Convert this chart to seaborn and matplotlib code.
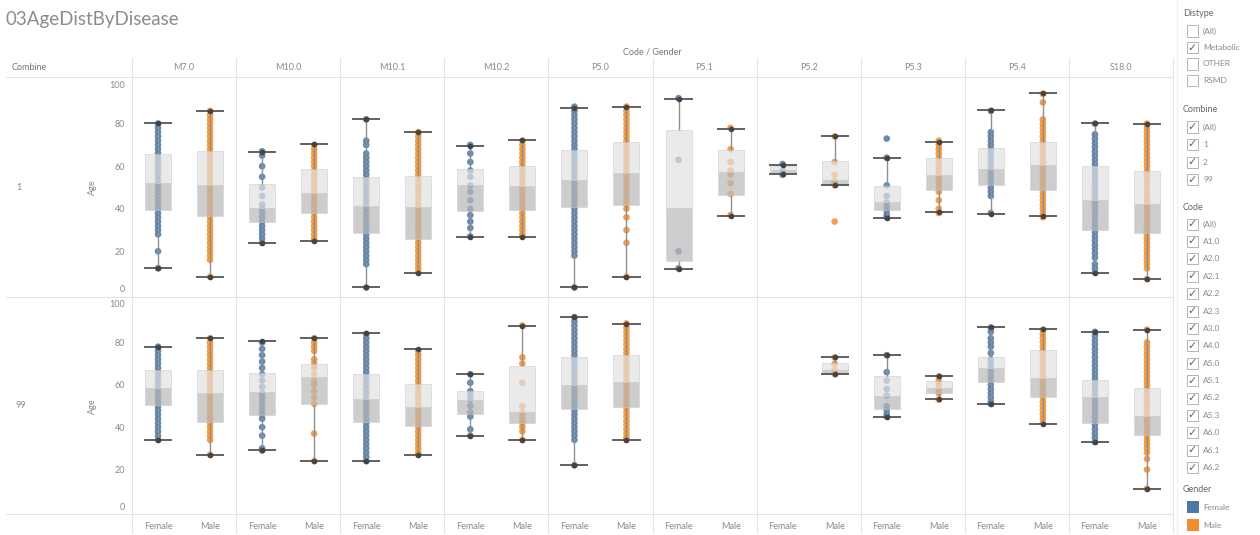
import pandas as pd
import seaborn as sns
import matplotlib.pyplot as plt
from matplotlib.patches import Rectangle
from matplotlib.lines import Line2D

# Facets
codes = ["M7.0", "M10.0", "M10.1", "M10.2", "P5.0", "P5.1", "P5.2", "P5.3", "P5.4", "S18.0"]
genders = ["Female", "Male"]
combines = ["1", "99"]

# Box stats per (code, gender): (whisker low, q1, median, q3, whisker high)
box_1 = [
    (12, 39.5, 52, 65.8, 80.4), (8, 36.7, 51.3, 67, 86),
    (23.7, 33.6, 40.5, 51.7, 66.6), (24.7, 37.8, 47.4, 58.5, 70.4),
    (3, 28.7, 41.3, 54.8, 82.4), (9.9, 26, 40.7, 55.3, 76),
    (26.9, 38.9, 51.3, 58.6, 69.7), (26.9, 39.3, 50.8, 60, 72.4),
    (3, 40.7, 53.6, 67.4, 87.6), (8, 42, 56.8, 71.5, 88),
    (11.9, 15.5, 40.5, 76.9, 91.6), (36.7, 46.7, 57.4, 67.7, 77.6),
    (56.3, 57, 58, 60, 60.5), (51.3, 51.3, 53.6, 62.4, 74.3),
    (35.8, 39.6, 43, 50.7, 63.7), (38.4, 48.7, 55.7, 63.7, 71.6),
    (37.6, 51.4, 58.8, 68.6, 86.2), (36.4, 48.7, 60.6, 71.6, 94.3),
    (10, 30, 44, 59.9, 80.5), (7, 28.7, 42.2, 57.6, 79.8),
]
box_99 = [
    (33.9, 50.6, 58.7, 66.9, 78), (26.7, 42.5, 56, 66.9, 81.9),
    (29.2, 45.9, 56.5, 65.8, 80.6), (24, 51, 63.5, 70, 82),
    (24, 42.6, 53.3, 65.3, 84.7), (27, 40.7, 49.5, 60.2, 76.9),
    (35.8, 46, 52.8, 57.1, 64.9), (33.9, 42, 47.1, 68.7, 88),
    (22.3, 48.6, 59.9, 73.3, 91.9), (33.9, 49.7, 61.5, 74.1, 88.8),
    None, None,
    None, (64.9, 64.9, 67.2, 70.4, 73.2),
    (44.9, 48.6, 54.7, 64.4, 74), (53.3, 56.1, 58.4, 62, 64.4),
    (51, 61.2, 68.1, 73.2, 87.1), (41.7, 54.2, 63, 76.5, 86.2),
    (32.9, 42.1, 54.2, 62.5, 84.8), (10.6, 36.1, 45.4, 58.4, 86),
]

# Patient ages per (code, gender)
ages_1 = [
    [80, 78, 76, 74, 72, 70, 68, 66, 64, 62, 60, 58, 56, 54, 52, 50, 48, 46, 44, 42, 40, 38, 36, 34, 32, 30, 28, 20, 12],
    [86, 84, 82, 80, 78, 76, 74, 72, 70, 68, 66, 64, 62, 60, 58, 56, 54, 52, 50, 48, 46, 44, 42, 40, 38, 36, 34, 32, 30, 28, 26, 24, 22, 20, 18, 16, 8],
    [67, 65, 60, 55, 50, 46, 42, 40, 38, 36, 34, 32, 30, 28, 26, 24],
    [70, 68, 66, 64, 62, 60, 58, 56, 54, 52, 50, 48, 46, 44, 42, 40, 38, 36, 34, 32, 30, 28, 26, 25],
    [82, 72, 70, 66, 64, 62, 60, 58, 56, 54, 52, 50, 48, 46, 44, 42, 40, 38, 36, 34, 32, 30, 28, 26, 24, 22, 20, 18, 16, 14, 3],
    [76, 74, 72, 70, 68, 66, 64, 62, 60, 58, 56, 54, 52, 50, 48, 46, 44, 42, 40, 38, 36, 34, 32, 30, 28, 26, 24, 22, 20, 18, 16, 14, 12, 10],
    [70, 66, 62, 58, 55, 51, 48, 44, 40, 37, 34, 31, 27],
    [72, 70, 68, 66, 64, 62, 60, 58, 56, 54, 52, 50, 48, 46, 44, 42, 40, 38, 36, 34, 32, 30, 28, 27],
    [88, 86, 84, 82, 80, 78, 76, 74, 72, 70, 68, 66, 64, 62, 60, 58, 56, 54, 52, 50, 48, 46, 44, 42, 40, 38, 36, 34, 32, 30, 28, 26, 24, 22, 20, 18, 3],
    [88, 86, 84, 82, 80, 78, 76, 74, 72, 70, 68, 66, 64, 62, 60, 58, 56, 54, 52, 50, 48, 46, 44, 42, 40, 36, 30, 24, 8],
    [92, 63, 20, 12],
    [78, 68, 62, 58, 56, 52, 47, 37],
    [61, 58, 56],
    [74, 62, 56, 53, 52, 51, 34],
    [73, 64, 51, 46, 43, 41, 39, 37, 36],
    [72, 70, 68, 66, 64, 62, 60, 58, 56, 54, 52, 50, 48, 44, 40, 38],
    [86, 76, 74, 72, 70, 68, 66, 64, 62, 60, 58, 56, 54, 52, 50, 48, 46, 38],
    [94, 90, 82, 80, 78, 76, 74, 72, 70, 68, 66, 64, 62, 60, 58, 56, 54, 52, 50, 48, 46, 44, 42, 40, 38, 36],
    [80, 75, 73, 71, 69, 67, 65, 63, 61, 59, 57, 55, 53, 51, 49, 47, 45, 43, 41, 39, 37, 35, 33, 31, 29, 27, 25, 23, 21, 19, 17, 14, 12, 10],
    [80, 78, 76, 74, 72, 70, 68, 66, 64, 62, 60, 58, 56, 54, 52, 50, 48, 46, 44, 42, 40, 38, 36, 34, 32, 30, 28, 26, 24, 22, 20, 18, 16, 14, 12, 7],
]
ages_99 = [
    [78, 76, 74, 72, 70, 68, 66, 64, 62, 60, 58, 56, 54, 52, 50, 48, 46, 44, 42, 40, 38, 36, 34],
    [82, 80, 78, 76, 74, 72, 70, 68, 66, 64, 62, 60, 58, 56, 54, 52, 50, 48, 46, 44, 42, 40, 38, 36, 34, 27],
    [80, 77, 74, 71, 68, 65, 62, 59, 56, 54, 52, 50, 48, 46, 44, 40, 36, 30, 29],
    [82, 80, 78, 76, 72, 70, 68, 65, 62, 60, 57, 54, 51, 37, 24],
    [84, 82, 80, 78, 76, 74, 72, 70, 68, 66, 64, 62, 60, 58, 56, 54, 52, 50, 48, 46, 44, 42, 40, 38, 36, 34, 32, 30, 28, 26, 24],
    [76, 74, 72, 70, 68, 66, 64, 62, 60, 58, 56, 54, 52, 50, 48, 46, 44, 42, 40, 38, 36, 34, 32, 30, 28, 27],
    [65, 61, 57, 55, 53, 50, 47, 45, 39, 36],
    [88, 73, 70, 61, 50, 47, 45, 43, 42, 40, 38, 34],
    [92, 90, 88, 86, 84, 82, 80, 78, 76, 74, 72, 70, 68, 66, 64, 62, 60, 58, 56, 54, 52, 50, 48, 46, 44, 42, 40, 38, 36, 34, 22],
    [89, 87, 85, 83, 81, 79, 77, 75, 73, 71, 69, 67, 65, 63, 61, 59, 57, 55, 53, 51, 49, 47, 45, 43, 41, 39, 37, 35, 34],
    [],
    [],
    [],
    [73, 70, 67, 65],
    [74, 66, 62, 58, 55, 50, 48, 46, 45],
    [64, 62, 60, 58, 56, 53],
    [87, 85, 82, 80, 78, 75, 72, 70, 68, 66, 64, 62, 60, 58, 56, 54, 52, 51],
    [86, 84, 82, 80, 78, 76, 74, 72, 70, 68, 66, 64, 62, 60, 58, 56, 54, 52, 50, 48, 46, 44, 42],
    [85, 83, 81, 79, 77, 75, 73, 71, 69, 67, 65, 63, 61, 59, 57, 55, 53, 51, 49, 47, 45, 43, 41, 39, 37, 35, 33],
    [86, 80, 78, 76, 74, 72, 70, 68, 66, 64, 62, 60, 58, 56, 54, 52, 50, 48, 46, 44, 42, 40, 38, 36, 34, 32, 30, 28, 25, 20, 11],
]

y_ticks = [0, 20, 40, 60, 80, 100]

# Filter panel
distype_items = ["(All)", "Metabolic", "OTHER", "RSMD"]
distype_checked = [False, True, False, False]
combine_items = ["(All)", "1", "2", "99"]
code_items = ["(All)", "A1.0", "A2.0", "A2.1", "A2.2", "A2.3", "A3.0", "A4.0",
              "A5.0", "A5.1", "A5.2", "A5.3", "A6.0", "A6.1", "A6.2"]

palette = {"Female": "#4e79a7", "Male": "#f28e2b"}

# long-form table
rows = []
for comb, groups in zip(combines, [ages_1, ages_99]):
    for k, vals in enumerate(groups):
        for v in vals:
            rows.append((comb, codes[k // 2], genders[k % 2], v))
df = pd.DataFrame(rows, columns=["combine", "code", "gender", "age"])

sns.set_theme(style="white")
plt.rcParams["font.family"] = ["Lato", "DejaVu Sans"]

W, H = 1260, 535
fig = plt.figure(figsize=(W / 100, H / 100), dpi=100)


def fx(x):
    return x / W


def fy(y):
    return 1 - y / H


TXT = "#8a8a8a"
GRID = "#e4e4e4"
left, right = 132, 1173
tops, bottoms = [79, 298], [296, 514]
colw = (right - left) / len(codes)

for r, comb in enumerate(combines):
    stats = [box_1, box_99][r]
    for c, code in enumerate(codes):
        ax = fig.add_axes([fx(left + c * colw), fy(bottoms[r]), colw / W,
                           (bottoms[r] - tops[r]) / H])
        sub = df[(df["combine"] == comb) & (df["code"] == code)]
        if len(sub):
            sns.stripplot(data=sub, x="gender", y="age", hue="gender",
                          order=genders, hue_order=genders, palette=palette,
                          jitter=False, size=4.8, alpha=0.85, linewidth=0,
                          legend=False, ax=ax, zorder=2)
        for i, g in enumerate(genders):
            s = stats[c * 2 + i]
            if s is None:
                continue
            lo, q1, med, q3, hi = s
            ax.bar(i, q3 - med, bottom=med, width=0.5, color="#e2e2e2",
                   alpha=0.7, edgecolor="#d0d0d0", linewidth=0.6, zorder=3)
            ax.bar(i, med - q1, bottom=q1, width=0.5, color="#b9b9b9",
                   alpha=0.7, edgecolor="#d0d0d0", linewidth=0.6, zorder=3)
            ax.vlines(i, lo, q1, color="#8f8f8f", linewidth=1, zorder=3)
            ax.vlines(i, q3, hi, color="#8f8f8f", linewidth=1, zorder=3)
            ax.hlines([lo, hi], i - 0.27, i + 0.27, color="#555555",
                      linewidth=1.3, zorder=4)
            ax.plot([i, i], [lo, hi], "o", color="#444444", markersize=3,
                    zorder=5)
        ax.set_xlim(-0.5, 1.5)
        ax.set_ylim(-1, 101)
        ax.set_xlabel("")
        ax.set_ylabel("")
        for sp in ax.spines.values():
            sp.set_visible(False)
        ax.tick_params(length=0, labelsize=6.5, labelcolor=TXT)
        if r == 1:
            ax.set_xticks([0, 1])
            ax.set_xticklabels(genders)
            ax.tick_params(axis="x", pad=6)
        else:
            ax.set_xticks([])
        if c == 0:
            ax.set_yticks(y_ticks)
            ax.set_yticklabels([str(t) for t in y_ticks])
            ax.tick_params(axis="y", pad=5)
            labs = ax.get_yticklabels()
            labs[0].set_va("bottom")
            labs[-1].set_va("top")
        else:
            ax.set_yticks([])
        ax.patch.set_alpha(0)

# separators
for c in range(len(codes) + 1):
    x = left + c * colw
    fig.add_artist(Line2D([fx(x), fx(x)], [fy(58), fy(533)], color=GRID, lw=0.8))
for y in [77, 296.5, 514]:
    fig.add_artist(Line2D([fx(6), fx(right)], [fy(y), fy(y)], color=GRID, lw=0.8))

# headers
fig.text(fx(5), fy(20), "03AgeDistByDisease", fontsize=13.5, color="#8c8c8c",
         va="center", ha="left")
fig.text(fx((left + right) / 2), fy(52), "Code / Gender", fontsize=6.5,
         color="#777777", ha="center", va="center")
fig.text(fx(12), fy(68), "Combine", fontsize=6.5, color="#777777", va="center")
for c, code in enumerate(codes):
    fig.text(fx(left + (c + 0.5) * colw), fy(68), code, fontsize=6.5, color=TXT,
             ha="center", va="center")
for r, comb in enumerate(combines):
    mid = (tops[r] + bottoms[r]) / 2
    fig.text(fx(16), fy(mid), comb, fontsize=6.5, color=TXT, va="center")
    fig.text(fx(92), fy(mid), "Age", fontsize=6.5, color=TXT, va="center",
             ha="center", rotation=90)

# filter / legend panel
fig.add_artist(Line2D([fx(1177), fx(1177)], [fy(0), fy(535)], color="#f0f0f0", lw=0.8))


def checkbox(y, label, checked):
    fig.add_artist(Rectangle((fx(1187), fy(y + 5.5)), 11 / W, 11 / H,
                             facecolor="white", edgecolor="#b5b5b5", lw=0.7))
    if checked:
        fig.text(fx(1192.5), fy(y), "\u2713", fontsize=8, color="#666666",
                 ha="center", va="center", family=["DejaVu Sans"])
    fig.text(fx(1203), fy(y), label, fontsize=6, color=TXT, va="center")


fig.text(fx(1183), fy(14), "Distype", fontsize=6.5, color="#666666", va="center")
for k, (lab, chk) in enumerate(zip(distype_items, distype_checked)):
    checkbox(31 + k * 16.5, lab, chk)
fig.text(fx(1183), fy(110), "Combine", fontsize=6.5, color="#666666", va="center")
for k, lab in enumerate(combine_items):
    checkbox(127 + k * 17.5, lab, True)
fig.text(fx(1183), fy(208), "Code", fontsize=6.5, color="#666666", va="center")
for k, lab in enumerate(code_items):
    checkbox(224 + k * 17.4, lab, True)
fig.text(fx(1183), fy(489), "Gender", fontsize=6.5, color="#666666", va="center")
for k, g in enumerate(genders):
    y = 507 + k * 18
    fig.add_artist(Rectangle((fx(1187), fy(y + 6)), 12 / W, 12 / H,
                             facecolor=palette[g], edgecolor="none"))
    fig.text(fx(1203), fy(y), g, fontsize=6, color=TXT, va="center")

fig.savefig("out.png", dpi=100)
